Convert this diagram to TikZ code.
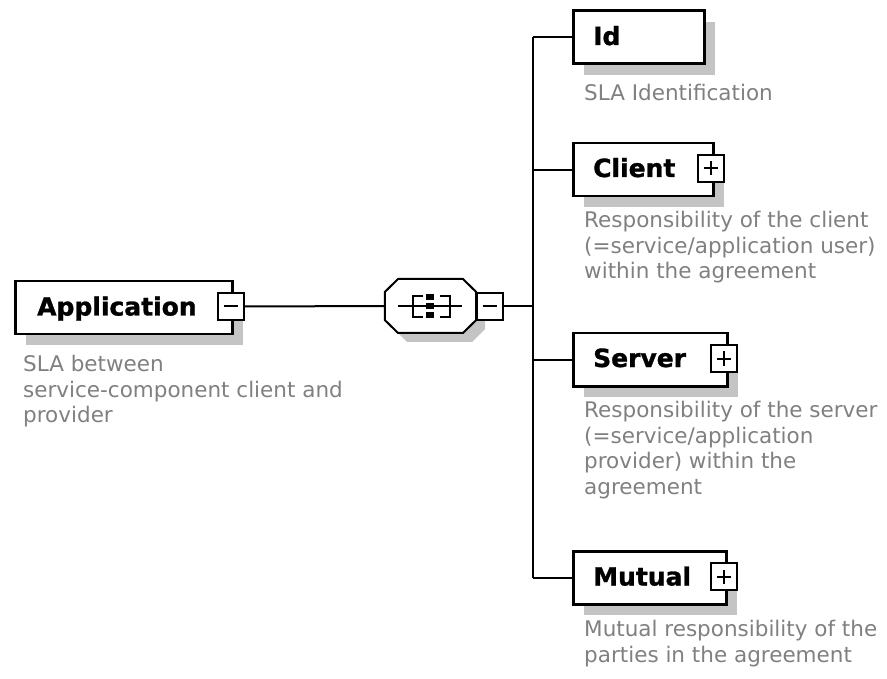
\documentclass[tikz,border=0pt]{standalone}
\usepackage{fontspec}
\setmainfont{DejaVu Sans}[BoldFeatures={FakeBold=1.2}]
\usetikzlibrary{shadows}
\definecolor{descgray}{RGB}{128,128,128}
\definecolor{shadegray}{RGB}{196,196,196}
\tikzset{
  elembox/.style={draw=black, line width=2.5pt, fill=white, inner sep=0pt,
    minimum height=53pt, anchor=north west,
    drop shadow={shadow xshift=11pt, shadow yshift=-11pt, fill=shadegray, opacity=1}},
  elemlabel/.style={font=\fontsize{25}{30}\selectfont\bfseries, anchor=base west, inner sep=0pt},
  desc/.style={font=\fontsize{21.5}{25.5}\selectfont, text=descgray, anchor=north west,
    inner sep=0pt, align=left},
  expbox/.style={draw=black, line width=2pt, fill=white, minimum width=26pt,
    minimum height=27pt, inner sep=0pt},
  conn/.style={line width=2pt},
  glyph/.style={line width=2pt},
}
\begin{document}
\begin{tikzpicture}[x=1pt,y=-1pt]
\useasboundingbox (0,0) rectangle (887,679);

% root element
\node[elembox, minimum width=217pt] (app) at (14,280) {};
\node[elemlabel] (applbl) at (37,315.5) {Application};
\node[expbox] (appx) at (231,306.5) {};
\draw[glyph] ([xshift=-7pt]appx.center) -- ([xshift=7pt]appx.center);
\node[desc] (appdesc) at (23,355) {SLA between\\service-component client and\\provider};

% sequence compositor
\node[minimum width=91pt, minimum height=54pt, inner sep=0pt] (seq) at (430.5,306) {};
\fill[shadegray, shift={(9,9)}] (385,292) -- (398,279) -- (463,279) -- (476,292) -- (476,320)
  -- (463,333) -- (398,333) -- (385,320) -- cycle;
\draw[line width=2pt, fill=white] (seq.west |- 0,292) -- (398,279) -- (463,279) -- (seq.east |- 0,292)
  -- (seq.east |- 0,320) -- (463,333) -- (398,333) -- (seq.west |- 0,320) -- cycle;
\draw[glyph] (398,306) -- (462,306);
\draw[glyph] (423,296) -- (413,296) -- (413,317) -- (423,317);
\draw[glyph] (440,296) -- (450,296) -- (450,317) -- (440,317);
\foreach \yy in {294,303,312}
  \fill[black] (426,\yy) rectangle (434,\yy+6);
\node[expbox] (seqx) at (489.5,306.5) {};
\draw[glyph] ([xshift=-7pt]seqx.center) -- ([xshift=7pt]seqx.center);

\draw[conn] (appx.east) -- (seq.west);
\coordinate (tr) at (533,306.5);
\draw[conn] (seqx.east) -- (tr);

% child elements
\node[elembox, minimum width=131pt] (id) at (572,9.5) {};
\node[elemlabel] (idlbl) at (593,45) {Id};
\node[desc] (iddesc) at (584,84) {SLA Identification};

\node[elembox, minimum width=140pt] (client) at (572,142) {};
\node[elemlabel] (clientlbl) at (593,177) {Client};
\node[expbox] (clientx) at (711,168.5) {};
\draw[glyph] ([xshift=-7pt]clientx.center) -- ([xshift=7pt]clientx.center);
\draw[glyph] ([yshift=-7pt]clientx.center) -- ([yshift=7pt]clientx.center);
\node[desc] (clientdesc) at (584,211) {Responsibility of the client\\(=service/application user)\\within the agreement};

\node[elembox, minimum width=154pt] (server) at (572,332) {};
\node[elemlabel] (serverlbl) at (593,367) {Server};
\node[expbox] (serverx) at (724,358.5) {};
\draw[glyph] ([xshift=-7pt]serverx.center) -- ([xshift=7pt]serverx.center);
\draw[glyph] ([yshift=-7pt]serverx.center) -- ([yshift=7pt]serverx.center);
\node[desc] (serverdesc) at (584,401) {Responsibility of the server\\(=service/application\\provider) within the\\agreement};

\node[elembox, minimum width=153pt] (mutual) at (572,550) {};
\node[elemlabel] (mutuallbl) at (593,585.5) {Mutual};
\node[expbox] (mutualx) at (724,576.5) {};
\draw[glyph] ([xshift=-7pt]mutualx.center) -- ([xshift=7pt]mutualx.center);
\draw[glyph] ([yshift=-7pt]mutualx.center) -- ([yshift=7pt]mutualx.center);
\node[desc] (mutualdesc) at (584,620) {Mutual responsibility of the\\parties in the agreement};

% branches
\draw[conn] (tr |- id.west) -- (tr |- mutual.west);
\draw[conn] (tr |- id.west) -- (id.west);
\draw[conn] (tr |- client.west) -- (client.west);
\draw[conn] (tr |- server.west) -- (server.west);
\draw[conn] (tr |- mutual.west) -- (mutual.west);
\end{tikzpicture}
\end{document}
